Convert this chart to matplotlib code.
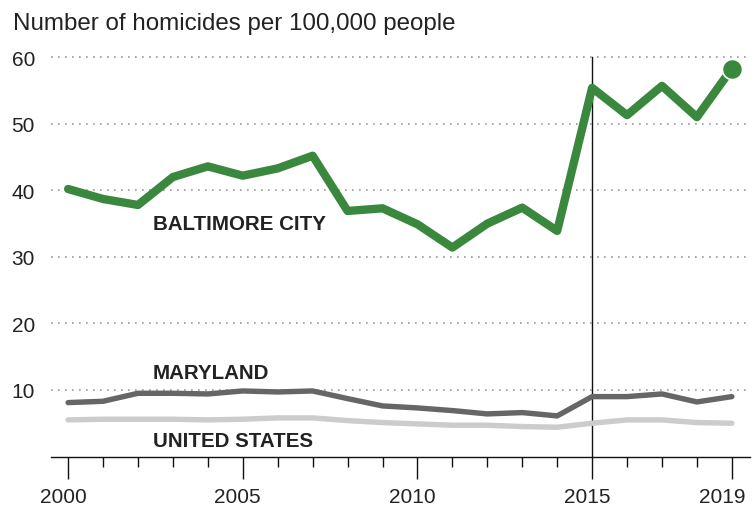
import matplotlib
matplotlib.use("Agg")
import matplotlib.pyplot as plt
import matplotlib.transforms as mtransforms
from matplotlib.ticker import FixedLocator

years = list(range(2000, 2020))
baltimore = [40.2, 38.7, 37.8, 42.0, 43.6, 42.2, 43.3, 45.2, 36.9, 37.3,
             34.9, 31.4, 35.0, 37.4, 33.9, 55.4, 51.3, 55.7, 51.0, 58.3]
maryland = [8.1, 8.3, 9.5, 9.5, 9.4, 9.85, 9.7, 9.85, 8.7, 7.6,
            7.3, 6.9, 6.4, 6.6, 6.1, 9.0, 9.0, 9.4, 8.2, 9.0]
united_states = [5.5, 5.6, 5.6, 5.6, 5.5, 5.6, 5.8, 5.8, 5.4, 5.1,
                 4.9, 4.7, 4.7, 4.5, 4.4, 5.0, 5.5, 5.5, 5.1, 5.0]
yticks = [10, 20, 30, 40, 50, 60]
major_years = [2000, 2005, 2010, 2015, 2019]
title = "Number of homicides per 100,000 people"

plt.rcParams['font.family'] = ['Liberation Sans', 'DejaVu Sans']

W, H = 753, 510
fig = plt.figure(figsize=(W / 100, H / 100), dpi=100)
ax = fig.add_axes([51 / W, (H - 457.5) / H, (750 - 51) / W, (457.5 - 51.6) / H])

green = '#3a873e'
ax.set_xlim(1999.51, 2019.52)
ax.set_ylim(0, 61)

for v in yticks:
    ax.axhline(v, color='#999999', lw=1.2, ls=(0, (1, 3.2)), zorder=1)

ax.plot(years, united_states, color='#cccccc', lw=3.9, solid_capstyle='round',
        solid_joinstyle='round', zorder=3)
ax.plot(years, maryland, color='#666666', lw=3.9, solid_capstyle='round',
        solid_joinstyle='round', zorder=4)
ax.plot(years, baltimore, color=green, lw=6, solid_capstyle='round',
        solid_joinstyle='round', zorder=5)
ax.plot([years[-1]], [baltimore[-1]], 'o', color=green, ms=14.5, mec='white',
        mew=1.2, zorder=6)

# vertical 2015 reference line
ax.plot([2015, 2015], [60, 0], color='#111111', lw=1.0, zorder=2)

lab_kw = dict(fontsize=14.8, fontweight='bold', color='#222222',
              ha='left', va='baseline')
ax.text(2002.43, 34.2, 'BALTIMORE CITY', **lab_kw)
ax.text(2002.43, 11.75, 'MARYLAND', **lab_kw)
ax.text(2002.43, 1.62, 'UNITED STATES', **lab_kw)

for s in ['top', 'right', 'left']:
    ax.spines[s].set_visible(False)
ax.spines['bottom'].set_color('#111111')
ax.spines['bottom'].set_linewidth(1.0)

ax.set_yticks(yticks)
ax.set_yticklabels([str(v) for v in yticks])
ax.tick_params(axis='y', length=0, pad=11.5, labelsize=15, labelcolor='#222222')

ax.xaxis.set_major_locator(FixedLocator(major_years))
ax.xaxis.set_minor_locator(FixedLocator([y for y in years if y not in major_years]))
ax.set_xticklabels([str(y) for y in major_years])
ax.tick_params(axis='x', which='major', length=15.8, width=1.0, color='#111111',
               pad=6.0, labelsize=15, labelcolor='#222222')
ax.tick_params(axis='x', which='minor', length=7.2, width=1.0, color='#111111')

fig.canvas.draw()
for lbl, yr in zip(ax.get_xticklabels(), major_years):
    dx = -10 if yr == 2019 else -5
    lbl.set_transform(lbl.get_transform() +
                      mtransforms.ScaledTranslation(dx / 100, 0, fig.dpi_scale_trans))

fig.text(13 / W, 1 - 30 / H, title, fontsize=17.4, color='#222222',
         ha='left', va='baseline')

fig.savefig('out.png', dpi=100)
